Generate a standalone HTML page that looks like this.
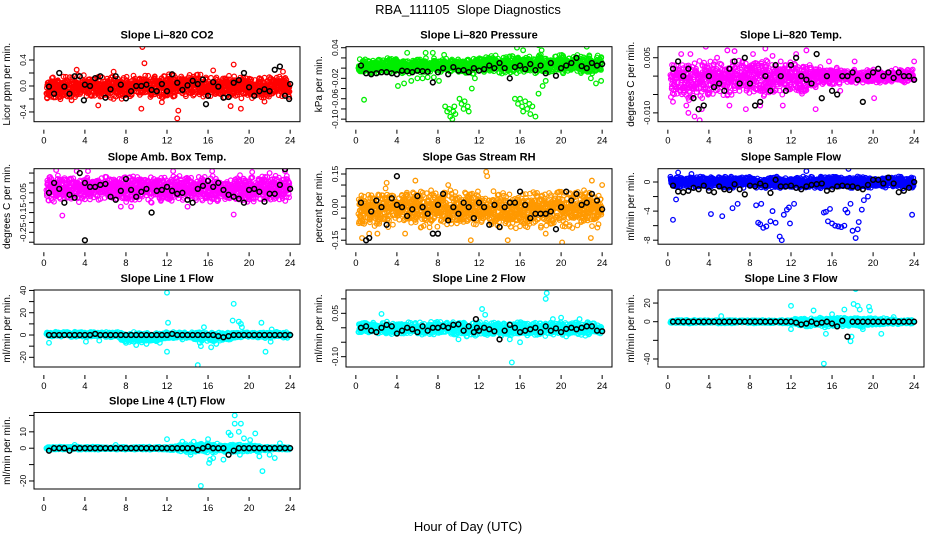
<!DOCTYPE html>
<html><head><meta charset="utf-8">
<style>
html,body{margin:0;padding:0;background:#fff;}
svg{display:block;font-family:"Liberation Sans",Arial,sans-serif;}
</style></head>
<body>
<svg id="chart" width="936" height="540" viewBox="0 0 936 540">
<text x="468" y="14" text-anchor="middle" font-size="13">RBA_111105&#160; Slope Diagnostics</text>
<text x="468" y="531" text-anchor="middle" font-size="13">Hour of Day (UTC)</text>
</svg>
<script>
const xTicks = [0,4,8,12,16,20,24];
const bandHours = [0,1,2,3,4,5,6,7,8,9,10,11,12,13,14,15,16,17,18,19,20,21,22,23,24];
const blackHours = [0.5,1,1.5,2,2.5,3,3.5,4,4.5,5,5.5,6,6.5,7,7.5,8,8.5,9,9.5,10,10.5,11,11.5,12,12.5,13,13.5,14,14.5,15,15.5,16,16.5,17,17.5,18,18.5,19,19.5,20,20.5,21,21.5,22,22.5,23,23.5,24];

// Panel 1: CO2
const co2Lo = [-0.22,-0.22,-0.22,-0.2,-0.22,-0.2,-0.22,-0.22,-0.22,-0.2,-0.2,-0.2,-0.18,-0.18,-0.16,-0.18,-0.2,-0.22,-0.22,-0.2,-0.2,-0.2,-0.2,-0.2,-0.2];
const co2Hi = [0.15,0.17,0.17,0.18,0.17,0.17,0.17,0.18,0.18,0.18,0.18,0.17,0.18,0.2,0.18,0.2,0.17,0.16,0.18,0.2,0.17,0.17,0.17,0.17,0.15];
const co2Black = [-0.01,-0.12,0.2,-0.01,-0.12,0.15,0.15,0.02,0,0.12,0.15,-0.18,-0.05,0.15,0.02,-0.19,-0.08,0,0,0.02,-0.06,-0.08,0.03,-0.08,0.18,0.05,-0.06,0.01,0.08,0.03,0.1,-0.15,0.06,-0.01,-0.18,-0.17,0.05,0.09,0.2,-0.02,-0.15,-0.08,-0.05,-0.08,0.25,0.3,-0.15,0.03];
const co2ExX = [3.9,15.8,23.9]; const co2ExY = [-0.22,-0.28,-0.2];
const co2OutX = [9.6,9.8,9.5,13.1,13,18.5,19.2,18.2,3.2,23.3,5.3,16.5,0.3,2.7,6.8,11.5,21.5];
const co2OutY = [0.6,0.35,-0.35,-0.38,-0.5,0.33,-0.35,-0.31,0.25,0.22,-0.3,0.24,-0.18,-0.22,0.22,-0.25,-0.24];

// Panel 2: Pressure
const presLo = [-0.01,-0.012,-0.012,-0.012,-0.012,-0.012,-0.012,-0.012,-0.012,-0.012,-0.012,-0.012,-0.012,-0.012,-0.012,-0.012,-0.012,-0.012,-0.012,-0.012,-0.012,-0.012,-0.012,-0.012,-0.01];
const presHi = [0.018,0.02,0.02,0.02,0.02,0.02,0.02,0.02,0.02,0.02,0.02,0.02,0.024,0.026,0.026,0.026,0.026,0.026,0.028,0.028,0.028,0.028,0.028,0.028,0.026];
const presBlack = [0.005,-0.01,-0.012,-0.01,-0.008,-0.008,-0.01,-0.012,-0.005,-0.006,-0.008,-0.005,-0.006,-0.007,-0.028,-0.008,0.0,-0.012,0.002,-0.005,-0.004,-0.008,0.0,-0.005,-0.002,0.005,0.0,0.01,0.0,-0.02,0.002,0.005,-0.002,0.008,-0.004,0.005,-0.01,0.01,-0.015,0.0,0.005,0.01,0.02,0.004,0.0,0.01,0.005,0.008];
const presExX = []; const presExY = [];
const presOutX = [0.8,4.1,4.7,5.4,6.0,6.5,7.0,7.6,8.1,8.7,8.9,9.1,9.2,9.4,9.5,9.7,9.6,10.1,10.3,10.5,10.6,10.9,11.0,11.3,11.6,15.5,15.8,16.0,16.2,16.3,16.5,16.7,16.9,17.0,17.2,17.5,17.8,18.2,18.5,15.7,16.3,17.8,18.1,8.6,7.5,22.5,23.4,23.9,22.9,20.2,5.0,6.8];
const presOutY = [-0.062,-0.035,-0.03,-0.025,-0.02,-0.02,-0.018,-0.018,-0.025,-0.075,-0.085,-0.08,-0.095,-0.1,-0.085,-0.09,-0.075,-0.06,-0.07,-0.08,-0.065,-0.075,-0.085,-0.04,-0.02,-0.06,-0.07,-0.06,-0.075,-0.085,-0.065,-0.08,-0.07,-0.09,-0.075,-0.095,-0.05,-0.035,-0.025,0.04,0.035,0.045,0.035,0.026,0.03,0.042,-0.03,-0.025,-0.02,-0.01,0.03,0.03];

// Panel 3: Temp
const tempLo = [-0.006,-0.006,-0.007,-0.007,-0.006,-0.006,-0.006,-0.006,-0.006,-0.006,-0.006,-0.006,-0.005,-0.005,-0.004,-0.003,-0.003,-0.002,-0.002,-0.002,-0.002,-0.002,-0.002,-0.002,-0.002];
const tempHi = [0.004,0.004,0.004,0.005,0.005,0.005,0.004,0.005,0.005,0.005,0.005,0.004,0.004,0.004,0.003,0.003,0.003,0.002,0.002,0.002,0.002,0.002,0.002,0.002,0.002];
const tempBlack = [0.002,0.004,0.0,0.002,-0.006,-0.009,-0.008,0.0,-0.003,-0.002,-0.004,0.002,0.004,-0.002,0.005,-0.002,-0.008,-0.007,0.0,-0.004,0.003,0.0,-0.004,0.003,0.005,0.0,-0.001,-0.002,0.006,-0.006,0.0,-0.004,-0.005,0.0,0.0,0.001,-0.001,-0.007,0.0,0.001,0.002,0.0,0.001,-0.0005,0.001,0.0,0.0,-0.001];
const tempExX = []; const tempExY = [];
const tempOutX = [1.8,2.0,2.6,3.1,3.3,1.3,3.7,4.8,5.8,6.5,7.6,8.3,9.5,10.2,11.2,12.5,14.4,15.7,18.2,20.1,24,6.0,11.0,13.5,16.8,0.5,2.2,9.0];
const tempOutY = [-0.008,-0.01,-0.011,-0.012,-0.009,0.006,0.008,0.005,0.007,0.0068,-0.009,0.006,0.0075,0.0055,-0.008,0.006,-0.009,0.004,0.004,-0.006,0.004,-0.008,0.004,0.007,-0.004,-0.007,0.006,-0.008];

// Panel 4: Amb. box temp
const ambLo = [-0.1,-0.1,-0.1,-0.1,-0.1,-0.1,-0.1,-0.1,-0.1,-0.1,-0.1,-0.1,-0.1,-0.1,-0.1,-0.1,-0.1,-0.1,-0.1,-0.1,-0.1,-0.1,-0.1,-0.1,-0.1];
const ambHi = [0.03,0.04,0.04,0.04,0.04,0.04,0.04,0.04,0.04,0.04,0.04,0.04,0.04,0.04,0.04,0.04,0.04,0.04,0.04,0.04,0.04,0.04,0.04,0.04,0.04];
const ambBlack = [-0.05,0.0,-0.03,-0.1,-0.06,-0.075,0.05,0.0,-0.02,-0.02,-0.01,-0.005,-0.07,-0.085,-0.04,0.02,-0.035,-0.07,-0.045,-0.03,-0.15,-0.04,-0.035,-0.02,-0.04,-0.055,-0.05,-0.085,-0.1,-0.03,-0.015,0.01,-0.02,0.0,-0.035,-0.06,-0.07,-0.08,-0.1,-0.035,-0.03,-0.045,-0.095,-0.055,-0.055,-0.01,0.07,-0.03];
const ambExX = [4.0]; const ambExY = [-0.29];
const ambOutX = [1.8,4.3,8.5,18.5,3.2,10.5,23.5,14,22,7.5,1.2,12.6,16.4,20.3];
const ambOutY = [-0.165,0.06,-0.12,-0.16,0.06,-0.1,0.06,-0.12,0.05,-0.12,0.065,0.06,0.06,0.055];

// Panel 5: Gas stream RH
const rhLo = [-0.1,-0.1,-0.11,-0.1,-0.1,-0.1,-0.1,-0.1,-0.1,-0.1,-0.1,-0.1,-0.1,-0.1,-0.1,-0.1,-0.1,-0.1,-0.1,-0.1,-0.1,-0.1,-0.1,-0.1,-0.1];
const rhHi = [0.07,0.08,0.08,0.09,0.08,0.08,0.08,0.08,0.08,0.08,0.08,0.08,0.08,0.08,0.08,0.08,0.08,0.08,0.08,0.08,0.08,0.08,0.08,0.08,0.08];
const rhBlack = [0.02,-0.15,-0.02,0.03,0.0,-0.08,0.04,0.01,0.0,-0.04,-0.01,0.05,0.0,-0.03,-0.12,0.01,0.06,-0.06,0.0,-0.03,0.02,0.0,-0.05,0.02,0.0,-0.08,0.01,-0.09,0.0,0.02,0.02,0.07,0.01,-0.05,-0.03,-0.03,-0.03,-0.02,-0.1,0.0,0.07,0.03,0.06,0.01,0.02,0.06,0.03,-0.01];
const rhExX = [4.0,1.3,8.0]; const rhExY = [0.14,-0.14,-0.12];
const rhOutX = [12.7,14.8,20.1,23,5.8,0.6,1.3,24,22.9,18.5,11.2,9,3,4.8,12.8,2.1];
const rhOutY = [0.16,-0.15,-0.16,0.12,0.12,-0.14,-0.12,0.1,-0.14,-0.12,-0.15,0.1,0.11,-0.12,0.14,-0.12];

// Panel 6: Sample flow
const sfLo = [-0.9,-0.9,-0.9,-0.9,-0.9,-0.9,-0.9,-0.9,-0.9,-0.9,-0.9,-0.9,-0.9,-0.9,-0.9,-0.9,-0.9,-0.9,-0.9,-0.9,-0.9,-0.9,-0.9,-0.9,-0.9];
const sfHi = [0.8,0.8,0.8,0.8,0.8,0.8,0.8,0.8,0.8,0.8,0.8,0.8,0.8,0.8,0.8,0.8,0.8,0.8,0.8,0.8,0.8,0.8,0.8,0.8,0.8];
const sfBlack = [-0.5,-1.3,-1.4,-1.2,-0.8,-1.0,-0.5,-1.2,-1.4,-0.6,-1.0,-1.1,-0.3,-1.0,-1.7,-0.5,-0.6,-0.2,-0.5,-1.5,0.3,-0.6,-0.6,-0.5,-0.8,-1.0,-0.6,-0.4,-0.3,-0.2,-1.2,-1.0,-0.6,-0.5,-0.6,-0.6,-0.8,-1.0,-0.4,0.3,0.3,-0.2,0.6,-0.2,-1.4,-1.2,-0.8,0.0];
const sfExX = []; const sfExY = [];
const sfOutX = [0.5,0.8,4.2,5.3,6.3,6.8,8.6,9.1,8.8,9.0,9.3,9.6,10.0,10.2,10.5,10.9,11.1,11.3,11.6,11.8,11.9,12.3,15.4,15.6,15.8,16.0,16.3,16.6,16.9,17.2,17.5,17.8,18.0,18.3,18.5,18.6,18.9,19.1,19.5,23.8,15.2,17.3,13.5,17.6,1.0,2.3];
const sfOutY = [-5.2,-2.4,-4.4,-4.7,-3.6,-3.0,-3.2,-3.0,-5.6,-5.8,-6.3,-6.1,-5.4,-4.0,-5.6,-7.5,-8.0,-4.5,-3.8,-3.5,-5.7,-3.0,-4.1,-5.4,-3.7,-5.7,-6.0,-6.1,-6.2,-6.0,-4.2,-3.0,-6.7,-7.7,-6.5,-5.5,-3.8,-2.5,-2.0,-4.5,-4.2,-3.8,1.5,1.8,1.3,1.1];

// Panel 7: Line 1 flow
const l1Lo = [-2,-2,-2,-2,-2,-2,-2,-3,-6,-7,-7,-7,-4,-3,-3,-6,-6,-6,-5,-3,-3,-3,-3,-3,-3];
const l1Hi = [3,3,3,3,3,3,3,3,3,3,3,3,3,3,3,3,3,3,3,3,3,3,3,3,3];
const l1Black = [0,0,0,0,0,0,0,0,0,1,0,0,0,0,0,0,0,0,0,0,0,0,0,0,1,0,0,0,0,0,0,0,0,-1,-2,-1,0,0,0,0,0,0,0,0,0,0,0,0];
const l1ExX = []; const l1ExY = [];
const l1OutX = [0.5,4.1,5.4,12,12.1,12,15,15.2,15.3,16.3,16.8,15.6,18.5,18.4,19,19.2,19.3,21.2,21.6,22.2,22.1,9,10,8,11.3,13.5];
const l1OutY = [-7,-6,-5,38,11,-15,-27,-7,-10,-11,-8,7,28,13,12,10,7,11,-15,5,-6,-9,-8,-7,-7,-4];

// Panel 8: Line 2 flow
const l2Lo = [-0.025,-0.025,-0.025,-0.025,-0.025,-0.025,-0.025,-0.025,-0.025,-0.025,-0.03,-0.03,-0.03,-0.03,-0.03,-0.03,-0.03,-0.03,-0.03,-0.03,-0.03,-0.03,-0.03,-0.03,-0.025];
const l2Hi = [0.015,0.02,0.02,0.022,0.02,0.02,0.02,0.022,0.022,0.022,0.022,0.022,0.022,0.022,0.022,0.022,0.022,0.022,0.022,0.022,0.022,0.02,0.02,0.02,0.02];
const l2Black = [0.0,0.005,-0.01,-0.015,0.0,0.01,0.005,-0.02,-0.01,0.0,-0.005,-0.015,0.005,-0.01,0.0,0.0,0.005,0.0,0.01,0.012,-0.01,0.005,-0.015,-0.01,0.0,-0.005,-0.012,-0.04,-0.01,0.01,0.0,-0.015,-0.01,-0.005,0.0,-0.015,0.005,-0.01,-0.002,-0.015,-0.004,0.0,-0.005,0.0,0.005,0.005,-0.01,-0.012];
const l2ExX = [11.7,11.8]; const l2ExY = [0.03,0.0];
const l2OutX = [2.5,12.3,12.6,18.6,18.5,15.2,19.2,20,10,10.8,15,16,20.5,21.8];
const l2OutY = [0.048,0.065,0.045,0.12,0.1,-0.12,0.03,0.035,-0.04,-0.03,-0.04,-0.05,-0.03,0.03];

// Panel 9: Line 3 flow
const l3Lo = [-2,-2,-2,-2,-2,-2,-2,-2,-2,-2,-2,-2,-3,-5,-6,-6,-6,-6,-6,-6,-5,-4,-3,-3,-2];
const l3Hi = [2,2,2,2,2,2,2,2,2,2,2,2,3,4,5,5,5,5,5,5,4,4,3,3,2];
const l3Black = [0,0,0,0,0,0,0,0,0,0,0,0,0,0,0,0,0,0,0,0,0,0,0,0,-1,-3,-2,0,-2,-1,0,-2,-5,1,-16,0,0,0,0,0,0,0,0,0,0,0,0,0];
const l3ExX = []; const l3ExY = [];
const l3OutX = [15.2,18.3,18.1,18.5,18.7,17.2,15.4,15.3,12,12,14.2,16,20.8,17.8,19,22,17.9,15.7,5.2,19.6,19.7,13.6,17];
const l3OutY = [-45,35,19,17,13,13,-13,-6,-8,17,12,8,-13,-21,-8,5,-16,3,6,16,12,-5,2];

// Panel 10: Line 4 (LT) flow
const l4Lo = [-1,-1,-1,-1,-1,-1,-1,-1,-1,-1,-1,-1,-1,-2,-3,-3,-3,-3,-3,-3,-2,-2,-1,-1,-1];
const l4Hi = [1,1,1,1,1,1,1,1,1,1,1,1,1,2,3,3,3,3,3,3,2,2,1,1,1];
const l4Black = [-1.5,0,0,0,-1.5,0,0,0,0,0,0,0,0,0,0,0,0,0,0,0,0,0,0,0,0,0,0,0,0,-1,0,1,0,0,0,-4,-1.5,0,0,0,0,0,0,0,0,0,0,0];
const l4ExX = []; const l4ExY = [];
const l4OutX = [15.3,18.6,18.6,19,20.6,19.2,18.2,19.5,20.1,18.0,16,12,16.5,16.1,16.2,17.5,19.1,21.3,21,22,22.5,23,20.8,13.5,14.3,14.6,3,7];
const l4OutY = [-23,20,15,10,9,15,8,6,5,9.5,5.5,5.5,-6,-9,-7,-7,-4,-14,-5,-4,-6,3,-2,4,-4,4,2,2];

const panels = [
 {name:'co2',title:'Slope Li\u2013820 CO2',ylab:'Licor ppm per min.',col:0,row:0,dom:[-0.55,0.605],ticks:[-0.4,-0.2,0,0.2,0.4],labs:['-0.4','','0.0','','0.4'],color:'#ff0000',lo:co2Lo,hi:co2Hi,blk:co2Black,exX:co2ExX,exY:co2ExY,ox:co2OutX,oy:co2OutY},
 {name:'pressure',title:'Slope Li\u2013820 Pressure',ylab:'kPa per min.',col:1,row:0,dom:[-0.105,0.042],ticks:[0.04,0.02,0,-0.02,-0.04,-0.06,-0.08,-0.10],labs:['0.04','','','-0.02','','-0.06','','-0.10'],color:'#00ee00',lo:presLo,hi:presHi,blk:presBlack,exX:presExX,exY:presExY,ox:presOutX,oy:presOutY},
 {name:'temp',title:'Slope Li\u2013820 Temp.',ylab:'degrees C per min.',col:2,row:0,dom:[-0.0124,0.008],ticks:[0.005,0,-0.005,-0.01],labs:['0.005','','','-0.010'],color:'#ff00ff',lo:tempLo,hi:tempHi,blk:tempBlack,exX:tempExX,exY:tempExY,ox:tempOutX,oy:tempOutY},
 {name:'amb-temp',title:'Slope Amb. Box Temp.',ylab:'degrees C per min.',col:0,row:1,dom:[-0.31,0.072],ticks:[0.05,0,-0.05,-0.1,-0.15,-0.2,-0.25,-0.3],labs:['','','-0.05','','-0.15','','-0.25',''],color:'#ff00ff',lo:ambLo,hi:ambHi,blk:ambBlack,exX:ambExX,exY:ambExY,ox:ambOutX,oy:ambOutY},
 {name:'rh',title:'Slope Gas Stream RH',ylab:'percent per min.',col:1,row:1,dom:[-0.168,0.174],ticks:[0.15,0.1,0.05,0,-0.05,-0.1,-0.15],labs:['0.15','','','0.00','','','-0.15'],color:'#ff9900',lo:rhLo,hi:rhHi,blk:rhBlack,exX:rhExX,exY:rhExY,ox:rhOutX,oy:rhOutY},
 {name:'sample-flow',title:'Slope Sample Flow',ylab:'ml/min per min.',col:2,row:1,dom:[-8.55,1.83],ticks:[0,-2,-4,-6,-8],labs:['0','','-4','','-8'],color:'#0000ff',lo:sfLo,hi:sfHi,blk:sfBlack,exX:sfExX,exY:sfExY,ox:sfOutX,oy:sfOutY},
 {name:'line1-flow',title:'Slope Line 1 Flow',ylab:'ml/min per min.',col:0,row:2,dom:[-28.7,40.4],ticks:[40,30,20,10,0,-10,-20],labs:['40','','20','','0','','-20'],color:'#00ffff',lo:l1Lo,hi:l1Hi,blk:l1Black,exX:l1ExX,exY:l1ExY,ox:l1OutX,oy:l1OutY},
 {name:'line2-flow',title:'Slope Line 2 Flow',ylab:'ml/min per min.',col:1,row:2,dom:[-0.1357,0.1307],ticks:[0.1,0.05,0,-0.05,-0.1],labs:['','0.05','','','-0.10'],color:'#00ffff',lo:l2Lo,hi:l2Hi,blk:l2Black,exX:l2ExX,exY:l2ExY,ox:l2OutX,oy:l2OutY},
 {name:'line3-flow',title:'Slope Line 3 Flow',ylab:'ml/min per min.',col:2,row:2,dom:[-48.6,34],ticks:[20,0,-20,-40],labs:['20','0','','-40'],color:'#00ffff',lo:l3Lo,hi:l3Hi,blk:l3Black,exX:l3ExX,exY:l3ExY,ox:l3OutX,oy:l3OutY},
 {name:'line4-flow',title:'Slope Line 4 (LT) Flow',ylab:'ml/min per min.',col:0,row:3,dom:[-24.9,21.8],ticks:[20,10,0,-10,-20],labs:['','10','0','','-20'],color:'#00ffff',lo:l4Lo,hi:l4Hi,blk:l4Black,exX:l4ExX,exY:l4ExY,ox:l4OutX,oy:l4OutY}
];

const NS = 'http://www.w3.org/2000/svg';
const svg = document.getElementById('chart');
const colLeft = [34,346,658], boxW = 266;
const rowTop = [46.7,168.7,290,412.5], rowH = [75,75.5,77,76.5];

function mk(tag, attrs, parent){
  const e = document.createElementNS(NS, tag);
  for (const k in attrs) e.setAttribute(k, attrs[k]);
  (parent||svg).appendChild(e);
  return e;
}
function interp(arr, h){
  const i = Math.max(0, Math.min(23, Math.floor(h)));
  const f = h - bandHours[i];
  return arr[i] + (arr[i+1]-arr[i])*f;
}
// deterministic texture hash (visual scatter inside the data band only)
function tex(a, b){
  const s = Math.sin(a * 12.9898 + b * 78.233) * 43758.5453;
  return s - Math.floor(s);
}

panels.forEach((p, pi) => {
  const L = colLeft[p.col], T = rowTop[p.row], H = rowH[p.row], B = T + H, R = L + boxW;
  const xs = h => L + (h + 0.96) / 25.92 * boxW;
  const ys = v => B - (v - p.dom[0]) / (p.dom[1] - p.dom[0]) * H;
  const g = mk('g', {});
  
  
  const clip = mk('clipPath', {id: 'clip' + pi}, g);
  mk('rect', {x: L, y: T, width: boxW, height: H}, clip);

  const t = mk('text', {x: (L+R)/2, y: T - 8, 'text-anchor': 'middle', 'font-size': 11, 'font-weight': 'bold'}, g);
  t.textContent = p.title;
  
  

  const yl = mk('text', {x: 0, y: 0, 'text-anchor': 'middle', 'font-size': 10, transform: `translate(${L-24},${(T+B)/2}) rotate(-90)`}, g);
  yl.textContent = p.ylab;
  
  

  const pts = mk('g', {'clip-path': `url(#clip${pi})`, fill: 'none'}, g);
  
  
  const nPer = 5;
  let i = 0;
  for (let h = 0.3; h <= 23.95; h += 0.1, i++) {
    const lo = interp(p.lo, h), hi = interp(p.hi, h);
    for (let k = 0; k < nPer; k++) {
      const fr = (tex(i + pi * 31, k) + tex(k + 7, i + pi * 13)) / 2;
      const hx = h + (tex(i, k + 50) - 0.5) * 0.1;
      const c = mk('circle', {cx: xs(hx).toFixed(1), cy: ys(lo + fr * (hi - lo)).toFixed(1), r: 2.3, stroke: p.color, 'stroke-width': 1.2}, pts);
      
      
    }
  }
  for (let j = 0; j < p.ox.length; j++) {
    const c = mk('circle', {cx: xs(p.ox[j]), cy: ys(p.oy[j]), r: 2.3, stroke: p.color, 'stroke-width': 1.3}, pts);
    
    
  }
  const n = Math.min(blackHours.length, p.blk.length);
  for (let j = 0; j < n; j++) {
    const c = mk('circle', {cx: xs(blackHours[j]), cy: ys(p.blk[j]), r: 2.4, stroke: '#000', 'stroke-width': 1.5}, pts);
    
    
  }
  for (let j = 0; j < p.exX.length; j++) {
    const c = mk('circle', {cx: xs(p.exX[j]), cy: ys(p.exY[j]), r: 2.4, stroke: '#000', 'stroke-width': 1.5}, pts);
    
    
  }

  const box = mk('rect', {x: L, y: T, width: boxW, height: H, fill: 'none', stroke: '#000', 'stroke-width': 1}, g);
  
  

  xTicks.forEach(v => {
    const x = xs(v);
    mk('line', {x1: x, x2: x, y1: B + 8, y2: B + 12, stroke: '#000', 'stroke-width': 1}, g);
    const tl = mk('text', {x: x, y: B + 22, 'text-anchor': 'middle', 'font-size': 9.5}, g);
    tl.textContent = v;
    
    
  });
  p.ticks.forEach((v, k) => {
    const y = ys(v);
    mk('line', {x1: L - 5, x2: L, y1: y, y2: y, stroke: '#000', 'stroke-width': 1}, g);
    if (p.labs[k]) {
      const tl = mk('text', {x: 0, y: 0, 'text-anchor': 'middle', 'font-size': 8.5, transform: `translate(${L-8},${y}) rotate(-90)`}, g);
      tl.textContent = p.labs[k];
      
      
    }
  });
});
</script>
</body></html>
